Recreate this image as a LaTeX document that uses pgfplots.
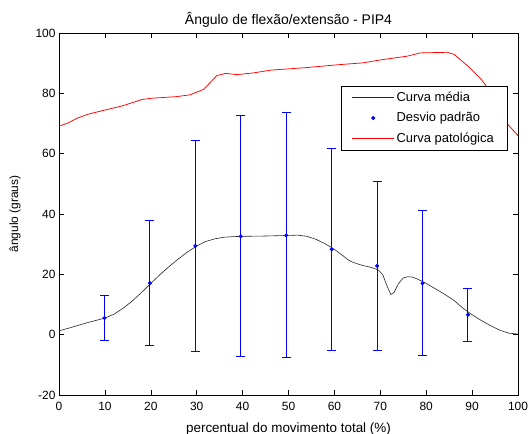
\documentclass[border=0pt]{standalone}
\usepackage{pgfplots}
\pgfplotsset{compat=1.18}
\usepackage{pgfplotstable}
\usepackage{fontspec}
\setmainfont{Liberation Sans}

% media e desvio padrao nos pontos de amostra
\pgfplotstableread{
x y e
9.9 5.5 7.4
19.8 17.1 20.6
29.7 29.4 35.0
39.6 32.6 40.0
49.5 32.9 40.6
59.4 28.3 33.4
69.3 22.8 27.9
79.2 17.0 24.0
89.1 6.6 8.8
}\desvio

\pgfplotstableread{
x y
0 1.3
2 2.1
4 3.0
6 3.9
8 4.7
10 5.5
12 6.8
14 8.8
16 11.2
18 14.0
20 17.0
22 19.9
24 22.6
26 25.1
28 27.4
30 29.4
32 30.9
34 31.8
36 32.3
38 32.5
40 32.6
45 32.7
50 32.9
52 33.0
54 32.6
56 31.6
58 30.1
60 28.3
62 26.0
63 24.8
64 24.0
66 23.0
68 22.3
69.5 21.5
70.5 20.0
71.5 16.0
72.3 13.3
73 14.0
74 17.0
75 18.8
76 19.2
77 19.1
78 18.5
80 17.0
82 15.2
84 13.4
86 11.4
88 8.8
90 6.6
92 4.7
94 3.0
96 1.5
98 0.5
100 0.2
}\media

\pgfplotstableread{
x y
0 69.1
2 70.2
4 71.8
6.4 73.1
9.3 74.2
13.7 75.8
18.2 78.0
20.4 78.4
25.6 78.9
28.5 79.5
31.5 81.3
34.4 85.9
36.3 86.6
38.8 86.2
42.5 86.8
46.2 87.7
53.6 88.5
61 89.5
66.2 90.1
70.6 91.2
75.8 92.3
78.7 93.4
84.6 93.6
86.1 92.9
89.1 89.0
92 84.6
93.1 82.4
95 77.0
97.4 70.3
100 66.0
}\patologica

\begin{document}
\begin{tikzpicture}
\useasboundingbox (-59bp,-39bp) rectangle (473bp,395bp);
\begin{axis}[
    scale only axis,
    width=459bp, height=362bp,
    xmin=0, xmax=100, ymin=-20, ymax=100,
    xtick={0,10,...,100},
    ytick={-20,0,...,100},
    tick align=inside,
    major tick length=5bp,
    axis line style={line width=0.6bp},
    every tick/.style={black, line width=0.6bp},
    /pgf/number format/assume math mode=true,
    tick label style={font=\fontsize{12}{14}\selectfont},
    xticklabel style={yshift=-3.5bp},
    title={Ângulo de flexão/extensão - PIP4},
    title style={font=\fontsize{14}{16}\selectfont, at={(axis description cs:0.5,1.021)}, anchor=center},
    xlabel={percentual do movimento total (\%)},
    xlabel style={font=\fontsize{13.5}{15}\selectfont, at={(axis description cs:0.5,-0.093)}, anchor=center},
    ylabel={ângulo (graus)},
    ylabel style={font=\fontsize{12}{14}\selectfont, at={(axis description cs:-0.0959,0.5)}, anchor=center},
    legend style={at={(axis description cs:0.976,0.854)}, anchor=north east,
        font=\fontsize{13}{15}\selectfont,
        cells={anchor=west}, row sep=5.5bp, inner xsep=11bp, inner ysep=4bp},
    legend image code/.code={\draw[mark repeat=2,mark phase=2,#1] plot coordinates {(0bp,0bp) (21bp,0bp) (42bp,0bp)};},
]
\addplot[black!85, line width=0.6bp] table[x=x,y=y] {\media};
\addlegendentry{Curva média}
\addplot[blue, only marks, mark=*, mark size=1.8bp,
    error bars/.cd, y dir=both, y explicit,
    error bar style={blue, line width=1bp},
    error mark options={rotate=90, blue, mark size=4.5bp, line width=1bp}]
    table[x=x,y=y,y error=e] {\desvio};
\addlegendentry{Desvio padrão}
\addplot[red, line width=0.75bp] table[x=x,y=y] {\patologica};
\addlegendentry{Curva patológica}
\end{axis}
\end{tikzpicture}
\end{document}
